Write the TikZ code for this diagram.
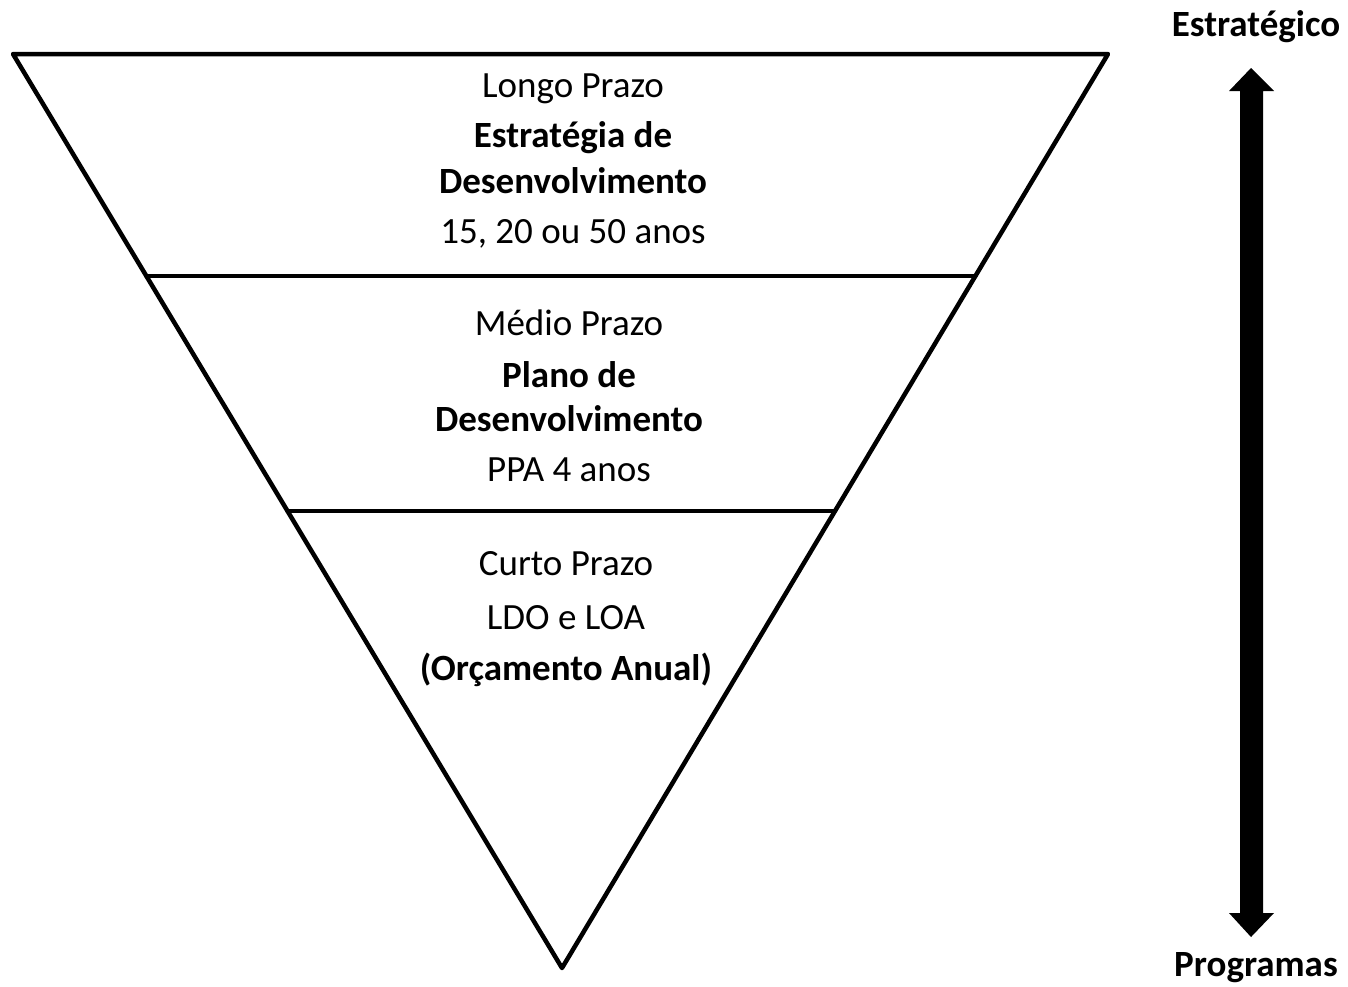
\documentclass[tikz,border=0pt]{standalone}
\usepackage{fontspec}
\setmainfont{Carlito}
\begin{document}
\begin{tikzpicture}[x=1pt,y=-1pt,
  edge/.style={line width=4.5pt,line join=round,line cap=round},
  body/.style={anchor=base,inner sep=0pt,font=\fontsize{37}{40}\selectfont},
  bbody/.style={body,font=\fontsize{37}{40}\selectfont\bfseries},
  side/.style={anchor=base,inner sep=0pt,font=\fontsize{37}{40}\selectfont\bfseries}]
\useasboundingbox (0,0) rectangle (1348,986);
\coordinate (tl) at (13,54);
\coordinate (tr) at (1108,54);
\coordinate (ap) at (562,968);
\path (tl) -- (ap) coordinate[pos=0.2429] (l1) coordinate[pos=0.5] (l2);
\path (tr) -- (ap) coordinate[pos=0.2429] (r1) coordinate[pos=0.5] (r2);
\draw[edge] (tl) -- (tr) -- (ap) -- cycle;
\draw[edge] (l1) -- (r1);
\draw[edge] (l2) -- (r2);
% texts
\node[body]  (t1) at (573,97)  {Longo Prazo};
\node[bbody] (t2) at (573,147) {Estratégia de};
\node[bbody] (t3) at (573,193) {Desenvolvimento};
\node[body]  (t4) at (573,243) {15, 20 ou 50 anos};
\node[body]  (m1) at (569,335) {Médio Prazo};
\node[bbody] (m2) at (569,387) {Plano de};
\node[bbody] (m3) at (569,431) {Desenvolvimento};
\node[body]  (m4) at (569,481) {PPA 4 anos};
\node[body]  (c1) at (566,575) {Curto Prazo};
\node[body]  (c2) at (566,629) {LDO e LOA};
\node[bbody] (c3) at (566,680) {(Orçamento Anual)};
% side
\node[side] (st) at (1256,36) {Estratégico};
\node[side] (pr) at (1256,976) {Programas};
\fill (1251,68) -- (1274,91) -- (1263,91) -- (1263,913) -- (1274,913) -- (1251,937)
  -- (1229,913) -- (1240,913) -- (1240,91) -- (1229,91) -- cycle;
\end{tikzpicture}
\end{document}
